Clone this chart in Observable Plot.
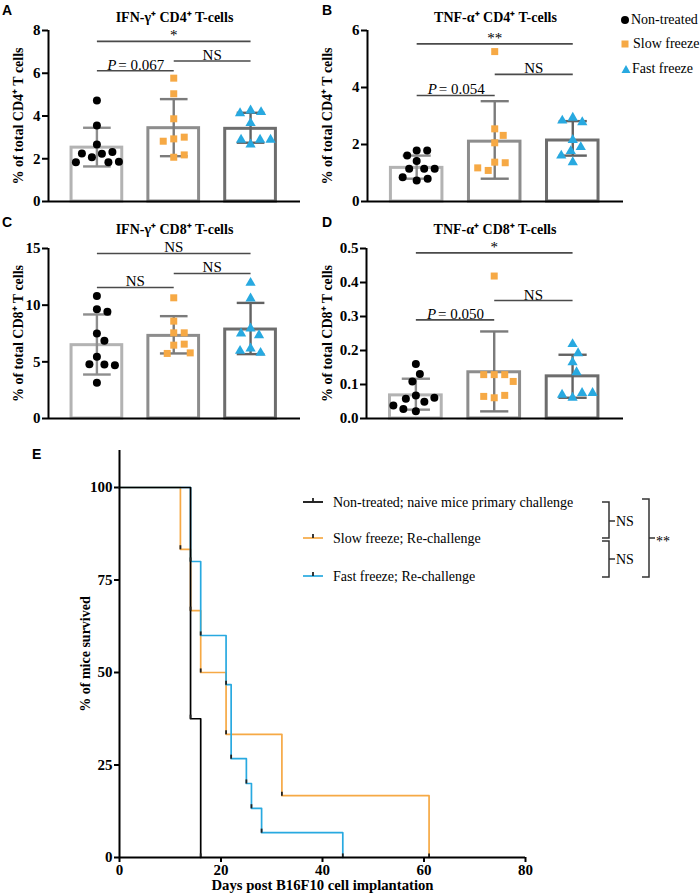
<!DOCTYPE html>
<html><head><meta charset="utf-8">
<script src="https://cdn.jsdelivr.net/npm/d3@7"></script>
<script src="https://cdn.jsdelivr.net/npm/@observablehq/plot@0.6"></script>
<style>
html,body{margin:0;padding:0;background:#fff;}
#fig{position:relative;width:700px;height:893px;overflow:hidden;font-family:"Liberation Serif","Times New Roman",serif;color:#000;}
.panel{position:absolute;}
.panel svg{overflow:visible;display:block;}
#fig svg text{font-family:"Liberation Serif","Times New Roman",serif !important;}
.letter{position:absolute;font:bold 14px "Liberation Sans",Arial,sans-serif;line-height:1;}
g[aria-label*="axis"] line, g[aria-label*="axis"] path{stroke-width:2px;}
.lg{position:absolute;font-size:14px;line-height:18px;height:18px;white-space:nowrap;display:flex;align-items:center;}
</style></head><body><div id="fig"></div>
<script>
// ---------- DATA ----------
const groups = ["Non-treated", "Slow freeze", "Fast freeze"];

// A: IFN-γ+ CD4+ T-cells (% of total CD4+ T cells)
const ifnCD4Non  = [4.73, 3.56, 2.67, 2.23, 2.07, 2.25, 2.31, 1.84, 1.84, 1.86];
const ifnCD4Slow = [5.77, 5.04, 3.87, 2.93, 3.01, 2.82, 2.07, 2.18];
const ifnCD4Fast = [4.26, 4.18, 4.13, 3.67, 2.67, 2.89, 2.89, 2.89];
const ifnCD4Mean = [2.52, 3.43, 3.40];
const ifnCD4Lo   = [1.64, 2.12, 2.75];
const ifnCD4Hi   = [3.45, 4.79, 4.15];
const ifnCD4Sig  = [{a:0,b:2,y:7.49,label:"*"},{a:1,b:2,y:6.57,label:"NS"},{a:0,b:1,y:6.12,label:"P = 0.067"}];

// B: TNF-α+ CD4+ T-cells
const tnfCD4Non  = [1.79, 1.79, 1.61, 1.42, 1.15, 1.15, 1.15, 0.74, 0.80, 0.85];
const tnfCD4Slow = [5.26, 2.55, 2.32, 2.06, 1.38, 1.36, 1.09, 1.18];
const tnfCD4Fast = [2.94, 2.78, 2.84, 2.16, 1.91, 1.77, 1.38, 1.61];
const tnfCD4Mean = [1.18, 2.10, 2.14];
const tnfCD4Lo   = [0.80, 0.80, 1.61];
const tnfCD4Hi   = [1.61, 3.52, 2.82];
const tnfCD4Sig  = [{a:0,b:2,y:5.53,label:"**"},{a:1,b:2,y:4.46,label:"NS"},{a:0,b:1,y:3.72,label:"P = 0.054"}];

// C: IFN-γ+ CD8+ T-cells
const ifnCD8Non  = [10.8, 9.65, 9.41, 7.5, 6.85, 5.44, 4.76, 4.79, 4.7, 3.15];
const ifnCD8Slow = [10.65, 8.59, 7.56, 7.56, 6.47, 6.56, 5.74, 5.79];
const ifnCD8Fast = [11.97, 10.59, 7.94, 7.35, 7.5, 6.18, 5.79, 5.97];
const ifnCD8Mean = [6.47, 7.29, 7.85];
const ifnCD8Lo   = [3.88, 5.74, 5.68];
const ifnCD8Hi   = [9.18, 9.03, 10.2];
const ifnCD8Sig  = [{a:0,b:2,y:14.56,label:"NS"},{a:1,b:2,y:12.8,label:"NS"},{a:0,b:1,y:11.56,label:"NS"}];

// D: TNF-α+ CD8+ T-cells
const tnfCD8Non  = [0.160, 0.131, 0.109, 0.068, 0.049, 0.058, 0.061, 0.021, 0.028, 0.038];
const tnfCD8Slow = [0.419, 0.129, 0.129, 0.129, 0.109, 0.061, 0.068, 0.065];
const tnfCD8Fast = [0.219, 0.192, 0.165, 0.136, 0.061, 0.075, 0.070, 0.075];
const tnfCD8Mean = [0.068, 0.136, 0.124];
const tnfCD8Lo   = [0.026, 0.021, 0.061];
const tnfCD8Hi   = [0.117, 0.256, 0.1875];
const tnfCD8Sig  = [{a:0,b:2,y:0.487,label:"*"},{a:1,b:2,y:0.347,label:"NS"},{a:0,b:1,y:0.290,label:"P = 0.050"}];

// E: survival
const survSeries = ["Non-treated; naive mice primary challenge", "Slow freeze; Re-challenge", "Fast freeze; Re-challenge"];
const nonDays  = [0, 14, 16];
const nonSurv  = [100, 37.5, 0];
const slowDays = [0, 12, 14, 16, 21, 32, 61];
const slowSurv = [100, 83.3, 66.7, 50, 33.3, 16.7, 0];
const fastDays = [0, 14, 16, 21, 22, 25, 26, 28, 44];
const fastSurv = [100, 80, 60, 46.7, 26.7, 20, 13.3, 6.7, 0];
const survCompare = ["NS", "NS", "**"];

// ---------- STYLE ----------
const ORANGE = "#F6A945", BLUE = "#28A9E0";
const barStroke = ["#b3b3b3", "#8d8d8d", "#6d6d6d"];
const errStroke = ["#8e8e8e", "#7b7b7b", "#626262"];
const SERIF = '"Liberation Serif","Times New Roman",serif';
const fig = document.getElementById("fig");

function place(node, left, top, w) {
  const d = document.createElement("div");
  d.className = "panel"; d.style.left = left + "px"; d.style.top = top + "px"; d.style.width = w + "px";
  d.appendChild(node); fig.appendChild(d);
}
function letter(t, left, top) {
  const d = document.createElement("div"); d.className = "letter"; d.textContent = t;
  d.style.left = left + "px"; d.style.top = top + "px"; fig.appendChild(d);
}
// simple deterministic beeswarm (pixel space), returns offsets in x data units
function swarm(vals, pxX, pxY, minDist) {
  const placed = [];
  return vals.map(v => {
    const py = v * pxY; let off = 0;
    for (let k = 0; k < 600; k++) {
      const c = (k % 2 ? 1 : -1) * Math.ceil(k / 2) * 0.5;
      if (placed.every(p => Math.hypot(p.x - c, p.y - py) >= minDist)) { off = c; break; }
    }
    placed.push({x: off, y: py});
    return off / pxX;
  });
}

function barPanel(c) {
  const xDom = [-0.63, 2.65];
  const fw = c.width - c.mL - c.mR, fh = c.height - c.mT - c.mB;
  const pxX = fw / (xDom[1] - xDom[0]), pxY = fh / c.yMax;
  const bars = c.means.map((m, i) => ({i, m, lo: c.lo[i], hi: c.hi[i], s: barStroke[i], e: errStroke[i], g: groups[i]}));
  const pts = c.series.map((vals, g) => { const o = swarm(vals, pxX, pxY, 10.5); return vals.map((v, k) => ({g, v, x: g + o[k]})); });
  const mid = d => (d.a + d.b) / 2;
  const plain = c.sig.filter(d => !d.label.startsWith("P"));
  const pv = c.sig.filter(d => d.label.startsWith("P"));
  const txt = {fontWeight: "normal", fontSize: 15, lineAnchor: "bottom", dy: -1};
  return Plot.plot({
    width: c.width, height: c.height, marginLeft: c.mL, marginRight: c.mR, marginTop: c.mT, marginBottom: c.mB,
    style: {background: "transparent", overflow: "visible", fontFamily: SERIF, fontSize: "15px", fontWeight: "bold", color: "#000"},
    color: {type: "identity"},
    x: {domain: xDom, axis: null},
    y: {domain: [0, c.yMax], ticks: c.ticks, tickFormat: c.fmt, tickSize: 6, tickPadding: 2, label: null},
    marks: [
      Plot.link(c.sig, {x1: "a", x2: "b", y1: "y", y2: "y", stroke: "#4a4a4a", strokeWidth: 1.6}),
      Plot.text(plain, {x: mid, y: "y", text: "label", ...txt}),
      Plot.text(pv, {x: mid, y: "y", text: () => "P", textAnchor: "start", dx: -28, fontStyle: "italic", ...txt}),
      Plot.text(pv, {x: mid, y: "y", text: d => d.label.replace(/^P\s*/, ""), textAnchor: "start", dx: -17, ...txt}),
      Plot.rect(bars, {x1: d => d.i - 0.33, x2: d => d.i + 0.33, y1: 0, y2: "m", fill: "white", stroke: "s", strokeWidth: 3}),
      Plot.ruleX(bars, {x: "i", y1: "lo", y2: "hi", stroke: "e", strokeWidth: 2.4}),
      Plot.link(bars, {x1: d => d.i - 0.18, x2: d => d.i + 0.18, y1: "hi", y2: "hi", stroke: "e", strokeWidth: 2.4}),
      Plot.link(bars, {x1: d => d.i - 0.18, x2: d => d.i + 0.18, y1: "lo", y2: "lo", stroke: "e", strokeWidth: 2.4}),
      Plot.dot(pts[0], {x: "x", y: "v", r: 4, fill: "#000", symbol: "circle"}),
      Plot.dot(pts[1], {x: "x", y: "v", r: 3.95, fill: ORANGE, symbol: "square"}),
      Plot.dot(pts[2], {x: "x", y: "v", r: 3.8, fill: BLUE, symbol: "triangle"}),
      Plot.ruleX([xDom[0]], {stroke: "#000", strokeWidth: 2}),
      Plot.ruleY([0], {stroke: "#000", strokeWidth: 2}),
      Plot.text([c.title], {frameAnchor: "top", text: d => d, dy: c.titleDy, fontSize: 14, lineAnchor: "middle"}),
      Plot.text([c.ylabel], {frameAnchor: "left", text: d => d, rotate: -90, dx: c.labelDx, fontSize: 14, textAnchor: "middle", lineAnchor: "middle"})
    ]
  });
}

place(barPanel({series: [ifnCD4Non, ifnCD4Slow, ifnCD4Fast], means: ifnCD4Mean, lo: ifnCD4Lo, hi: ifnCD4Hi, sig: ifnCD4Sig,
  yMax: 8, ticks: [0, 2, 4, 6, 8], fmt: d3.format("d"), title: "IFN-γ⁺ CD4⁺ T-cells", ylabel: "% of total CD4⁺ T cells",
  width: 320, height: 230, mL: 48, mR: 20, mT: 30, mB: 29, titleDy: -13, labelDx: -30}), 0, 0, 320);
place(barPanel({series: [tnfCD4Non, tnfCD4Slow, tnfCD4Fast], means: tnfCD4Mean, lo: tnfCD4Lo, hi: tnfCD4Hi, sig: tnfCD4Sig,
  yMax: 6, ticks: [0, 2, 4, 6], fmt: d3.format("d"), title: "TNF-α⁺ CD4⁺ T-cells", ylabel: "% of total CD4⁺ T cells",
  width: 320, height: 230, mL: 47, mR: 17, mT: 30, mB: 29, titleDy: -13, labelDx: -40}), 320, 0, 320);
place(barPanel({series: [ifnCD8Non, ifnCD8Slow, ifnCD8Fast], means: ifnCD8Mean, lo: ifnCD8Lo, hi: ifnCD8Hi, sig: ifnCD8Sig,
  yMax: 15, ticks: [0, 5, 10, 15], fmt: d3.format("d"), title: "IFN-γ⁺ CD8⁺ T-cells", ylabel: "% of total CD8⁺ T cells",
  width: 320, height: 230, mL: 48, mR: 20, mT: 36, mB: 24, titleDy: -19, labelDx: -30}), 0, 212, 320);
place(barPanel({series: [tnfCD8Non, tnfCD8Slow, tnfCD8Fast], means: tnfCD8Mean, lo: tnfCD8Lo, hi: tnfCD8Hi, sig: tnfCD8Sig,
  yMax: 0.5, ticks: [0, 0.1, 0.2, 0.3, 0.4, 0.5], fmt: d3.format(".1f"), title: "TNF-α⁺ CD8⁺ T-cells", ylabel: "% of total CD8⁺ T cells",
  width: 320, height: 230, mL: 46, mR: 17, mT: 36, mB: 24, titleDy: -19, labelDx: -39}), 320, 212, 320);

// ---------- E: survival ----------
const toRows = (days, surv, k) => days.map((d, i) => ({day: d, s: surv[i], k, i}));
const nonRows = toRows(nonDays, nonSurv, 0), slowRows = toRows(slowDays, slowSurv, 1), fastRows = toRows(fastDays, fastSurv, 2);
const corners = [...slowRows, ...fastRows, ...nonRows].filter(d => d.i > 0);
const plotE = Plot.plot({
  width: 700, height: 453, marginLeft: 119, marginRight: 175, marginTop: 10, marginBottom: 36,
  style: {background: "transparent", overflow: "visible", fontFamily: SERIF, fontSize: "15px", fontWeight: "bold", color: "#000"},
  x: {domain: [0, 80], ticks: [0, 20, 40, 60, 80], tickSize: 5, tickPadding: 2, label: null},
  y: {domain: [0, 110], ticks: [0, 25, 50, 75, 100], tickSize: 5, tickPadding: 2, label: null},
  marks: [
    Plot.line(slowRows, {x: "day", y: "s", curve: "step-after", stroke: ORANGE, strokeWidth: 1.7}),
    Plot.line(fastRows, {x: "day", y: "s", curve: "step-after", stroke: BLUE, strokeWidth: 1.7}),
    Plot.line(nonRows, {x: "day", y: "s", curve: "step-after", stroke: "#000", strokeWidth: 1.7}),
    Plot.link(corners, {x1: "day", x2: "day", y1: "s", y2: d => d.s + 1.1, stroke: "#222", strokeWidth: 1.8}),
    Plot.ruleX([0], {stroke: "#000", strokeWidth: 2}),
    Plot.ruleY([0], {stroke: "#000", strokeWidth: 2}),
    Plot.text(["Days post B16F10 cell implantation"], {frameAnchor: "bottom", text: d => d, dy: 28, fontSize: 14.7, lineAnchor: "middle"}),
    Plot.text(["% of mice survived"], {frameAnchor: "left", text: d => d, rotate: -90, dx: -34, fontSize: 14, textAnchor: "middle", lineAnchor: "middle"})
  ]
});
place(plotE, 0, 440, 700);

// ---------- legends & letters ----------
const symB = [
  '<svg width="10" height="10"><circle cx="5" cy="5" r="4" fill="#000"/></svg>',
  '<svg width="10" height="10"><rect x="1.5" y="1.5" width="7" height="7" fill="' + ORANGE + '"/></svg>',
  '<svg width="10" height="10"><path d="M5,1 L9.5,9 L0.5,9 Z" fill="' + BLUE + '"/></svg>'
];
[20, 44, 69].forEach((cy, i) => {
  const d = document.createElement("div"); d.className = "lg";
  d.style.left = (620 + (i === 2 ? 1 : 0)) + "px"; d.style.top = (cy - 9) + "px";
  d.innerHTML = symB[i] + '<span style="margin-left:' + (i === 1 ? 3 : 1) + 'px">' + groups[i] + '</span>';
  fig.appendChild(d);
});

const ns = "http://www.w3.org/2000/svg";
const ov = document.createElementNS(ns, "svg");
ov.setAttribute("width", 700); ov.setAttribute("height", 893);
ov.style.position = "absolute"; ov.style.left = "0"; ov.style.top = "0"; ov.style.pointerEvents = "none";
const lgColors = ["#000", ORANGE, BLUE];
let s = "";
[502, 538, 576].forEach((y, i) => {
  s += `<line x1="303" x2="323" y1="${y}" y2="${y}" stroke="${lgColors[i]}" stroke-width="1.7"/>`;
  s += `<line x1="313" x2="313" y1="${y}" y2="${y - 4}" stroke="#222" stroke-width="1.8"/>`;
  s += `<text x="333" y="${y}" dy="0.35em" font-size="14" font-family='${SERIF}'>${survSeries[i]}</text>`;
});
const br = (x, y1, y2, arm, stub, ym, label) => {
  s += `<path d="M${x - arm},${y1}H${x}V${y2}H${x - arm}M${x},${ym}H${x + stub}" fill="none" stroke="#333" stroke-width="1.5"/>`;
  s += `<text x="${x + stub + 1}" y="${ym}" dy="${label === "**" ? "0.6em" : "0.35em"}" font-size="14" font-family='${SERIF}'>${label}</text>`;
};
br(609, 502, 538, 7, 6, 521, survCompare[0]);
br(609, 541, 577, 7, 6, 559, survCompare[1]);
br(649, 499, 577, 7, 6, 538, survCompare[2]);
ov.innerHTML = s;
fig.appendChild(ov);

letter("A", 2, 3); letter("B", 322, 3); letter("C", 2, 215); letter("D", 322, 215); letter("E", 32, 447);
</script></body></html>
